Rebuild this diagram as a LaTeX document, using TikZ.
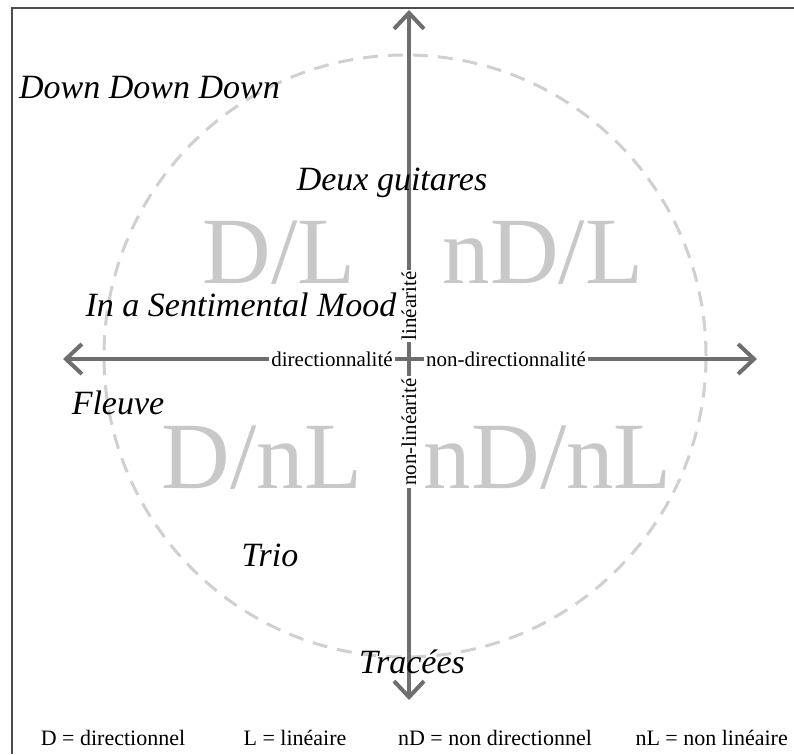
\documentclass[tikz,border=0pt]{standalone}
\usepackage{fontspec}
\setmainfont{Liberation Serif}
\usetikzlibrary{arrows.meta}
\definecolor{axegris}{HTML}{6E6E6E}
\definecolor{cerclegris}{HTML}{D0D0D0}
\definecolor{quadgris}{HTML}{C8C8C8}
\tikzset{
  cadre/.style={draw=black!70,line width=2pt},
  cercle/.style={draw=cerclegris,line width=3pt,dash pattern=on 15pt off 10pt},
  axe/.style={draw=axegris,line width=4pt,
    {Straight Barb[length=16pt,width=30pt]}-{Straight Barb[length=16pt,width=30pt]}},
  quad/.style={text=quadgris,font=\fontsize{95}{95}\selectfont,inner sep=0pt},
  titre/.style={font=\fontsize{34}{40}\selectfont\itshape,inner sep=1pt},
  lbl/.style={font=\fontsize{21}{23}\selectfont,fill=white,inner sep=2pt},
  legende/.style={font=\fontsize{22}{24}\selectfont,inner sep=1pt},
}

\begin{document}
\begin{tikzpicture}[x=1pt,y=-1pt]
  \useasboundingbox (0,0) rectangle (794,754);
  \draw[cadre] (12,754) -- (12,8) -- (794,8);
  \draw[cercle] (405,356) circle (301pt);
  % quadrants
  \node[quad] (dl) at (279,253) {D/L};
  \node[quad] (ndl) at (543,253) {nD/L};
  \node[quad] (dnl) at (262,458) {D/nL};
  \node[quad] (ndnl) at (548,458) {nD/nL};
  % axes
  \coordinate (centre) at (409,359);
  \coordinate (haut) at (409,10);
  \coordinate (bas) at (409,700);
  \coordinate (gauche) at (63,359);
  \coordinate (droite) at (757,359);
  \draw[axe] (gauche) -- (droite);
  \draw[axe] (bas) -- (haut);
  \node[lbl] (dir) at (332,359) {directionnalité};
  \node[lbl] (ndir) at (506,359) {non-directionnalité};
  \node[lbl,rotate=90] (lin) at (409,306) {linéarité};
  \node[lbl,rotate=90] (nlin) at (409,432) {non-linéarité};
  % morceaux
  \node[titre,anchor=west] (ddd) at (18,88) {Down Down Down};
  \node[titre] (deux) at (392,183) {Deux guitares};
  \node[titre] (mood) at (241,305) {In a Sentimental Mood};
  \node[titre] (fleuve) at (118,403) {Fleuve};
  \node[titre] (trio) at (270,555) {Trio};
  \node[titre] (tracees) at (412,662) {Tracées};
  % legende
  \node[legende] (legd) at (113,738) {D = directionnel};
  \node[legende] (legl) at (295,738) {L = linéaire};
  \node[legende] (legnd) at (495,738) {nD = non directionnel};
  \node[legende,anchor=east] (legnl) at (789,738) {nL = non linéaire};
\end{tikzpicture}
\end{document}
